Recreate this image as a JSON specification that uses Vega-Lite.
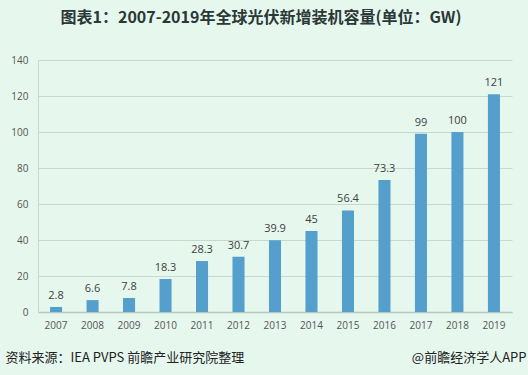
{
  "$schema": "https://vega.github.io/schema/vega-lite/v6.json",
  "width": 474,
  "height": 252,
  "autosize": {"type": "none"},
  "padding": {"left": 38, "top": 60, "right": 16, "bottom": 63},
  "background": "#e6f7ee",
  "config": {
    "view": {"stroke": null},
    "font": "Noto Sans CJK SC"
  },
  "title": {
    "text": "图表1：2007-2019年全球光伏新增装机容量(单位：GW)",
    "fontSize": 16,
    "fontWeight": "bold",
    "color": "#2b3838",
    "anchor": "middle",
    "dx": -14,
    "offset": 29,
    "font": "Noto Sans CJK SC"
  },
  "data": {
    "values": [
      {"year": "2007", "value": 2.8},
      {"year": "2008", "value": 6.6},
      {"year": "2009", "value": 7.8},
      {"year": "2010", "value": 18.3},
      {"year": "2011", "value": 28.3},
      {"year": "2012", "value": 30.7},
      {"year": "2013", "value": 39.9},
      {"year": "2014", "value": 45},
      {"year": "2015", "value": 56.4},
      {"year": "2016", "value": 73.3},
      {"year": "2017", "value": 99},
      {"year": "2018", "value": 100},
      {"year": "2019", "value": 121}
    ]
  },
  "encoding": {
    "x": {
      "field": "year",
      "type": "nominal",
      "scale": {"paddingInner": 0.67, "paddingOuter": 0.33},
      "axis": {
        "title": "资料来源：IEA PVPS 前瞻产业研究院整理",
        "titleFont": "Noto Sans CJK SC",
        "titleFontSize": 13,
        "titleFontWeight": "normal",
        "titleColor": "#222222",
        "titleAnchor": "start",
        "titleAlign": "left",
        "titleBaseline": "middle",
        "titleX": -33,
        "titleY": 45,
        "labelAngle": 0,
        "labelFont": "Open Sans",
        "labelFontSize": 10,
        "labelColor": "#555555",
        "labelPadding": 8,
        "ticks": false,
        "domainColor": "#b8c8c0",
        "domainWidth": 1.5
      }
    },
    "y": {
      "field": "value",
      "type": "quantitative",
      "scale": {"domain": [0, 140]},
      "axis": {
        "values": [0, 20, 40, 60, 80, 100, 120, 140],
        "title": "@前瞻经济学人APP",
        "titleFont": "Noto Sans CJK SC",
        "titleFontSize": 13,
        "titleFontWeight": "normal",
        "titleColor": "#222222",
        "titleAngle": 0,
        "titleAlign": "right",
        "titleBaseline": "middle",
        "titleX": 488,
        "titleY": 297,
        "labelFont": "Open Sans",
        "labelFontSize": 10,
        "labelColor": "#555555",
        "labelPadding": 10,
        "ticks": false,
        "domainColor": "#c8d8cf",
        "gridColor": "#c8d8cf",
        "grid": true
      }
    }
  },
  "layer": [
    {"mark": {"type": "bar", "color": "#559fcc"}},
    {
      "mark": {"type": "text", "baseline": "bottom", "dy": -6, "font": "Open Sans", "fontSize": 11, "color": "#404040"},
      "encoding": {"text": {"field": "value", "type": "quantitative"}}
    }
  ]
}
